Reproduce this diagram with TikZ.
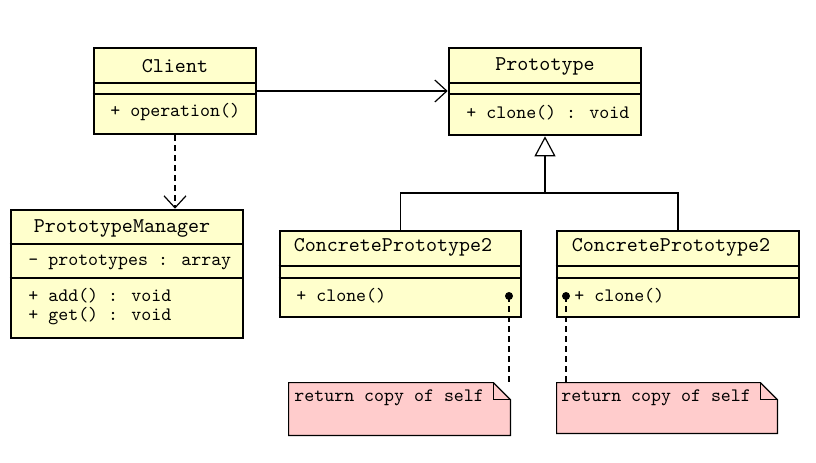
\documentclass[tikz,border=0pt]{standalone}
\usetikzlibrary{arrows.meta}

\definecolor{classfill}{HTML}{FFFFCC}
\definecolor{notefill}{HTML}{FFCCCC}

\tikzset{
  classbox/.style={draw, line width=1.3pt, fill=classfill, inner sep=0pt},
  classname/.style={font=\fontsize{10.5}{12}\selectfont\ttfamily, inner sep=0pt},
  member/.style={font=\fontsize{9.5}{11}\selectfont\ttfamily, anchor=west, inner sep=0pt},
  sep/.style={line width=0.6pt},
  link/.style={line width=0.6pt},
  notebox/.style={inner sep=0pt},
}

\begin{document}
\begin{tikzpicture}[x=0.5pt, y=-0.5pt]
    \useasboundingbox (0,0) rectangle (816,462);

    % classes
    \node[classbox, minimum width=81pt, minimum height=43pt] (client) at (175,91) {};
    \node[classname] (clientname) at (175,66) {Client};
    \draw[sep] (client.west |- 0,83) -- (client.east |- 0,83);
    \draw[sep] (client.west |- 0,94) -- (client.east |- 0,94);
    \node[member] (clientop) at (110,112) {+ operation()};

    \node[classbox, minimum width=96pt, minimum height=43.5pt] (proto) at (545,91.5) {};
    \node[classname] (protoname) at (545,66) {Prototype};
    \draw[sep] (proto.west |- 0,83) -- (proto.east |- 0,83);
    \draw[sep] (proto.west |- 0,94) -- (proto.east |- 0,94);
    \node[member] (protoop) at (466,113) {+ clone() : void};

    \node[classbox, minimum width=116pt, minimum height=64pt] (manager) at (127,274) {};
    \node[classname] (managername) at (122,228) {PrototypeManager};
    \draw[sep] (manager.west |- 0,244) -- (manager.east |- 0,244);
    \draw[sep] (manager.west |- 0,278) -- (manager.east |- 0,278);
    \node[member] (managerattr) at (28,262) {- prototypes : array};
    \node[member] (manageradd) at (28,296) {+ add() : void};
    \node[member] (managerget) at (28,316) {+ get() : void};

    \node[classbox, minimum width=120.5pt, minimum height=43pt] (concreteA) at (400.5,274) {};
    \node[classname] (concreteAname) at (393,247) {ConcretePrototype2};
    \draw[sep] (concreteA.west |- 0,266) -- (concreteA.east |- 0,266);
    \draw[sep] (concreteA.west |- 0,278) -- (concreteA.east |- 0,278);
    \node[member] (concreteAop) at (296,296) {+ clone()};

    \node[classbox, minimum width=121pt, minimum height=43pt] (concreteB) at (678,274) {};
    \node[classname] (concreteBname) at (671,247) {ConcretePrototype2};
    \draw[sep] (concreteB.west |- 0,266) -- (concreteB.east |- 0,266);
    \draw[sep] (concreteB.west |- 0,278) -- (concreteB.east |- 0,278);
    \node[member] (concreteBop) at (574,296) {+ clone()};

    % notes
    \node[notebox, minimum width=110.5pt, minimum height=26pt] (noteA) at (399.5,409) {};
    \draw[link, fill=notefill] (noteA.north west) -- ([xshift=-8.5pt]noteA.north east)
        -- ([yshift=-8.5pt]noteA.north east) -- (noteA.south east) -- (noteA.south west) -- cycle;
    \draw[link] ([xshift=-8.5pt]noteA.north east) |- ([yshift=-8.5pt]noteA.north east);
    \node[member] (noteAtext) at (294,398) {return copy of self};

    \node[notebox, minimum width=110pt, minimum height=25pt] (noteB) at (667,408) {};
    \draw[link, fill=notefill] (noteB.north west) -- ([xshift=-8.5pt]noteB.north east)
        -- ([yshift=-8.5pt]noteB.north east) -- (noteB.south east) -- (noteB.south west) -- cycle;
    \draw[link] ([xshift=-8.5pt]noteB.north east) |- ([yshift=-8.5pt]noteB.north east);
    \node[member] (noteBtext) at (561,398) {return copy of self};

    % connectors
    \draw[link, -{Straight Barb[length=6pt, width=11pt]}] (client.east) -- (proto.west |- client.east);
    \draw[link, dashed, dash pattern=on 3pt off 2pt, -{Straight Barb[length=6pt, width=11pt]}]
        (client.south) -- (client.south |- manager.north);

    \coordinate (junction) at (545,193);
    \draw[link] (concreteA.north) |- (junction) -| (concreteB.north);
    \draw[link, -{Triangle[open, length=10pt, width=10.5pt]}] (junction) -- (proto.south);

    \coordinate (dotA) at (509,296);
    \coordinate (dotB) at (566,296);
    \fill (dotA) circle[radius=2pt];
    \fill (dotB) circle[radius=2pt];
    \draw[link, dash pattern=on 3pt off 2pt] (dotA) -- (dotA |- noteA.north);
    \draw[link, dash pattern=on 3pt off 2pt] (dotB) -- (dotB |- noteB.north);
\end{tikzpicture}
\end{document}
